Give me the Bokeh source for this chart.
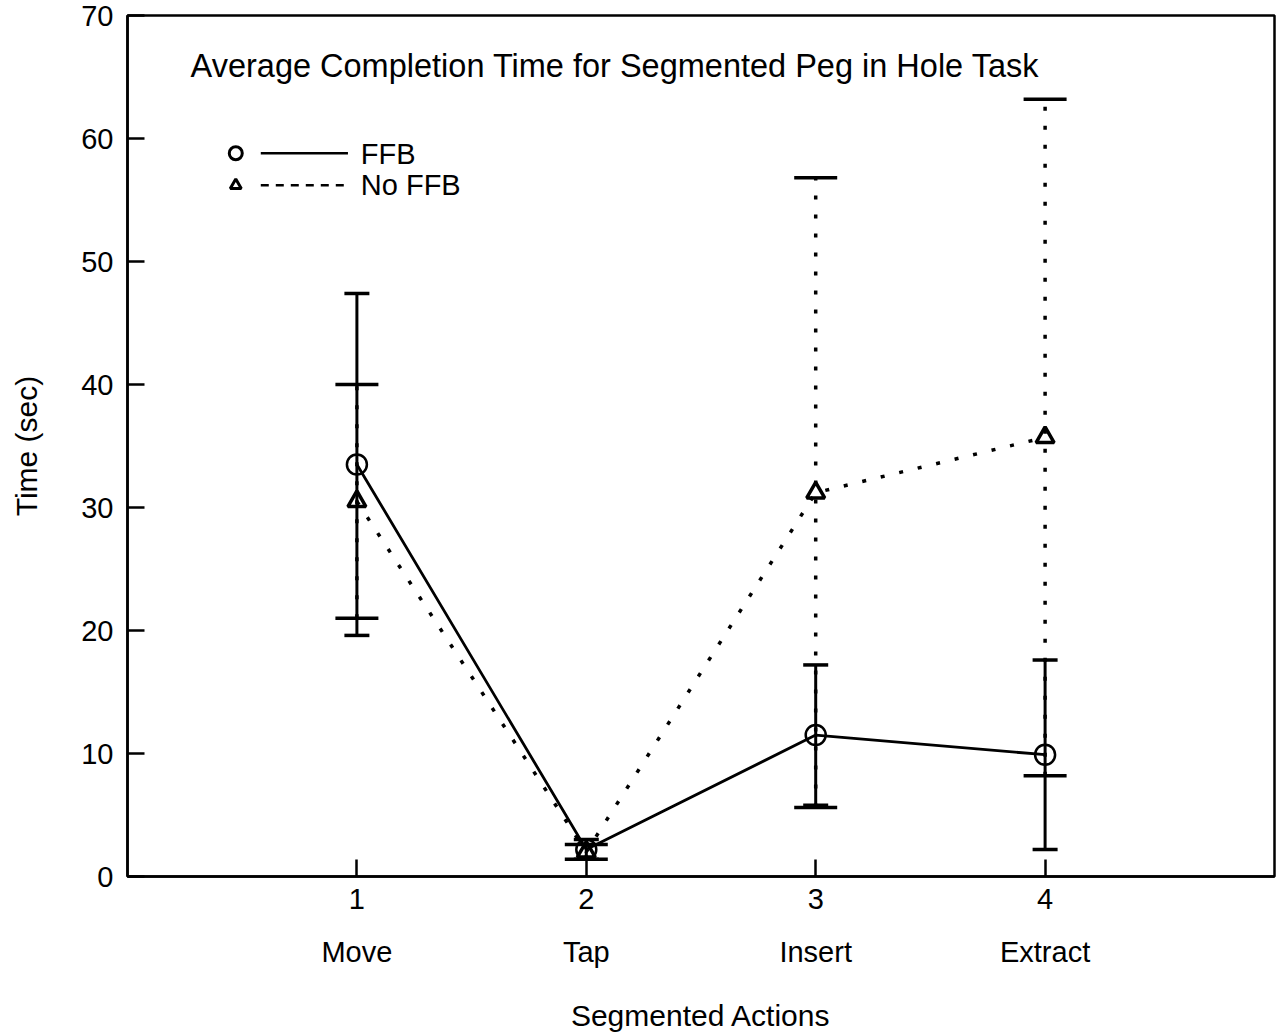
from bokeh.plotting import figure
from bokeh.models import Range1d, LinearAxis, FixedTicker, Whisker, TeeHead, ColumnDataSource
from bokeh.core.properties import value
from bokeh.embed import file_html
from bokeh.resources import INLINE

# ---- data ----
x_pos = [1, 2, 3, 4]
actions = ["Move", "Tap", "Insert", "Extract"]
ffb_mean = [33.5, 2.2, 11.5, 9.9]
ffb_err = [13.9, 0.8, 5.7, 7.7]
noffb_mean = [30.5, 2.0, 31.2, 35.7]
noffb_err = [9.5, 0.6, 25.6, 27.5]
y_ticks = [0, 10, 20, 30, 40, 50, 60, 70]
series_names = ["FFB", "No FFB"]
chart_title = "Average Completion Time for Segmented Peg in Hole Task"
x_title = "Segmented Actions"
y_title = "Time (sec)"

FONT = "Liberation Sans"
FS = "29px"

p = figure(frame_width=1147, frame_height=861,
           min_border_left=127, min_border_top=15, min_border_right=4, min_border_bottom=40,
           x_range=Range1d(0, 5), y_range=Range1d(0, 70),
           output_backend="svg", toolbar_location=None,
           x_axis_location=None, y_axis_location=None)
p.grid.visible = False
p.outline_line_color = "black"
p.outline_line_width = 2.5
p.background_fill_color = "white"
p.border_fill_color = "white"

# y axis
yax = LinearAxis(ticker=FixedTicker(ticks=y_ticks), axis_label=y_title)
yax.major_tick_in = 17
yax.major_tick_out = 0
yax.minor_tick_line_color = None
yax.axis_line_width = 2.5
yax.major_tick_line_width = 2.5
yax.major_label_text_font = FONT
yax.major_label_text_font_size = FS
yax.major_label_text_color = "black"
yax.major_label_standoff = 14
yax.axis_label_text_font = FONT
yax.axis_label_text_font_size = "30px"
yax.axis_label_text_font_style = "normal"
yax.axis_label_text_color = "black"
yax.axis_label_standoff = 35
p.add_layout(yax, "left")

# x axis numeric
xax = LinearAxis(ticker=FixedTicker(ticks=x_pos))
xax.major_tick_in = 17
xax.major_tick_out = 0
xax.minor_tick_line_color = None
xax.axis_line_width = 2.5
xax.major_tick_line_width = 2.5
xax.major_label_text_font = FONT
xax.major_label_text_font_size = FS
xax.major_label_text_color = "black"
xax.major_label_standoff = 12
p.add_layout(xax, "below")

# x axis category names
xax2 = LinearAxis(ticker=FixedTicker(ticks=x_pos), axis_label=x_title)
xax2.major_label_overrides = {x: a for x, a in zip(x_pos, actions)}
xax2.axis_line_color = None
xax2.major_tick_line_color = None
xax2.minor_tick_line_color = None
xax2.major_label_text_font = FONT
xax2.major_label_text_font_size = FS
xax2.major_label_text_color = "black"
xax2.major_label_standoff = 18
xax2.axis_label_text_font = FONT
xax2.axis_label_text_font_size = "30px"
xax2.axis_label_text_font_style = "normal"
xax2.axis_label_text_color = "black"
xax2.axis_label_standoff = 28
p.add_layout(xax2, "below")

src_f = ColumnDataSource(dict(x=x_pos, y=ffb_mean,
                              lo=[m - e for m, e in zip(ffb_mean, ffb_err)],
                              hi=[m + e for m, e in zip(ffb_mean, ffb_err)]))
src_n = ColumnDataSource(dict(x=x_pos, y=noffb_mean,
                              lo=[m - e for m, e in zip(noffb_mean, noffb_err)],
                              hi=[m + e for m, e in zip(noffb_mean, noffb_err)]))

# error bars: No FFB (dotted, wide caps) first, FFB (solid, narrow caps) on top
wn = Whisker(source=src_n, base="x", lower="lo", upper="hi",
             line_color="black", line_width=3.5, line_dash="4 15",
             upper_head=TeeHead(size=43, line_width=3.5, line_color="black"),
             lower_head=TeeHead(size=43, line_width=3.5, line_color="black"))
p.add_layout(wn)
wf = Whisker(source=src_f, base="x", lower="lo", upper="hi",
             line_color="black", line_width=3,
             upper_head=TeeHead(size=25, line_width=3.5, line_color="black"),
             lower_head=TeeHead(size=25, line_width=3.5, line_color="black"))
p.add_layout(wf)

# lines and markers
p.line("x", "y", source=src_n, line_color="black", line_width=3.5, line_dash="4 15")
p.line("x", "y", source=src_f, line_color="black", line_width=2.8)
p.scatter("x", "y", source=src_n, marker="triangle", size=18, fill_color=None,
          line_color="black", line_width=3.5)
p.scatter("x", "y", source=src_f, marker="circle", size=20, fill_color=None,
          line_color="black", line_width=2.5)

# title inside plot
p.text(x=[0.275], y=[65.9], text=[chart_title], text_font=value(FONT),
       text_font_size="32.5px", text_color="black", text_baseline="alphabetic", text_align="left")

# legend (drawn)
p.scatter(x=[0.472], y=[58.8], marker="circle", size=13, fill_color=None,
          line_color="black", line_width=3)
p.segment(x0=[0.581], y0=[58.8], x1=[0.961], y1=[58.8], line_color="black", line_width=2.5)
p.scatter(x=[0.472], y=[56.2], marker="triangle", size=11, fill_color=None,
          line_color="black", line_width=3)
p.segment(x0=[0.581], y0=[56.2], x1=[0.961], y1=[56.2], line_color="black", line_width=2.5,
          line_dash="8 7")
p.text(x=[1.017, 1.017], y=[58.7, 56.2], text=series_names, text_font=value(FONT),
       text_font_size="29px", text_color="black", text_baseline="alphabetic", text_align="left")

open("out.html", "w").write(file_html(p, INLINE))
